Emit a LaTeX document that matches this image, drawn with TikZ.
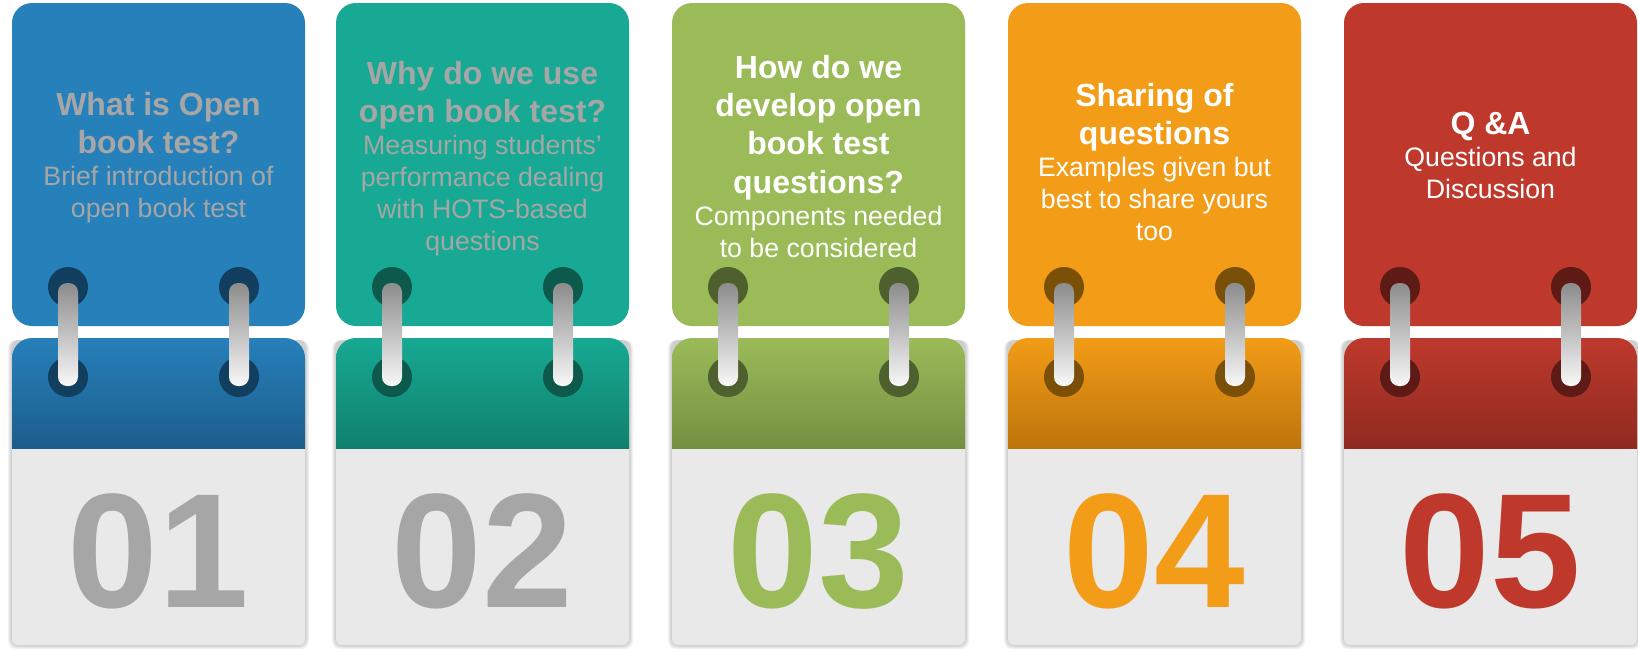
\documentclass[tikz,border=0pt]{standalone}
\usepackage{fontspec}
\setmainfont{Liberation Sans}
\usepackage{xcolor}
% card colours
\definecolor{main1}{HTML}{2680BA}
\definecolor{main2}{HTML}{17A993}
\definecolor{main3}{HTML}{9BBB59}
\definecolor{main4}{HTML}{F29C17}
\definecolor{main5}{HTML}{BE392C}
\definecolor{dark1}{HTML}{1C5D8C}
\definecolor{dark2}{HTML}{10806D}
\definecolor{dark3}{HTML}{758F41}
\definecolor{dark4}{HTML}{BE740C}
\definecolor{dark5}{HTML}{8F2A21}
\definecolor{hole1}{HTML}{123F5F}
\definecolor{hole2}{HTML}{0D5A4C}
\definecolor{hole3}{HTML}{4E602D}
\definecolor{hole4}{HTML}{7A5008}
\definecolor{hole5}{HTML}{5E1B15}
\definecolor{txt1}{HTML}{A6A6A6}
\definecolor{txt2}{HTML}{A6A6A6}
\definecolor{txt3}{HTML}{FFFFFF}
\definecolor{txt4}{HTML}{FFFFFF}
\definecolor{txt5}{HTML}{FFFFFF}
\definecolor{num1}{HTML}{A6A6A6}
\definecolor{num2}{HTML}{A6A6A6}
\definecolor{num3}{HTML}{9BBB59}
\definecolor{num4}{HTML}{F29C17}
\definecolor{num5}{HTML}{BE392C}
\definecolor{paper}{HTML}{E9E9E9}
\definecolor{ringtop}{HTML}{8C8C8C}
\definecolor{ringbot}{HTML}{F8F8F8}

% plain word spaces in the font's own width
\newcommand\wordspace{\spaceskip=\fontdimen2\font\xspaceskip=\fontdimen2\font\relax}
\newcommand\titlefont{\bfseries\fontsize{32}{38.4}\selectfont\wordspace}
\newcommand\subfont{\fontsize{26.7}{32}\selectfont\wordspace}
\newcommand\numfont{\bfseries\fontsize{163}{163}\selectfont}

\tikzset{
	cardtext/.style={anchor=north, inner sep=0pt, text width=286pt, align=center},
	cardnum/.style={anchor=base, inner sep=0pt, font=\numfont},
	ring/.style={top color=ringtop, bottom color=ringbot, rounded corners=9pt},
}

\begin{document}
\begin{tikzpicture}[x=1pt, y=-1pt]
	\useasboundingbox (0,0) rectangle (1638,648);
	\def\w{293}
	\foreach \i/\x/\yb/\ttl/\sub in {
		1/12/115/{What is Open\\book test?}/{Brief introduction of\\open book test},
		2/336/84/{Why do we use\\open book test?}/{Measuring students’\\performance dealing\\with HOTS-based\\questions},
		3/672/78/{How do we\\develop open\\book test\\questions?}/{Components needed\\to be considered},
		4/1008/106/{Sharing of\\questions}/{Examples given but\\best to share yours\\too},
		5/1344/135/{Q \&A}/{Questions and\\Discussion}}{
		% shadow of the lower sheet
		\foreach \s in {1,...,4}{
			\fill[black, opacity=.05, rounded corners=8pt] ({\x-\s},{340}) rectangle ({\x+\w+\s},{645+\s});
		}
		% upper sheet
		\fill[main\i, rounded corners=20pt] (\x,3) rectangle ({\x+\w},326);
		% lower sheet
		\shade[top color=main\i, bottom color=dark\i] (\x,449) [rounded corners=20pt] -- (\x,338) -- ({\x+\w},338) [sharp corners] -- ({\x+\w},449) -- cycle;
		\fill[paper] (\x,449) [rounded corners=6pt] -- (\x,645) -- ({\x+\w},645) [sharp corners] -- ({\x+\w},449) -- cycle;
		% holes and rings
		\foreach \h in {56,227}{
			\fill[hole\i] ({\x+\h},287) circle[radius=20];
			\fill[hole\i] ({\x+\h},377) circle[radius=20];
			\shade[ring] ({\x+\h-10},283) rectangle ({\x+\h+10},386);
		}
		% texts
		\node[cardtext, text=txt\i] (txt\i) at ({\x+\w/2},{\yb-23.3}) {{\titlefont \ttl\par}{\subfont \sub\par}};
		\node[cardnum, text=num\i] (num\i) at ({\x+\w/2},607) {0\i};
	}
\end{tikzpicture}
\end{document}
